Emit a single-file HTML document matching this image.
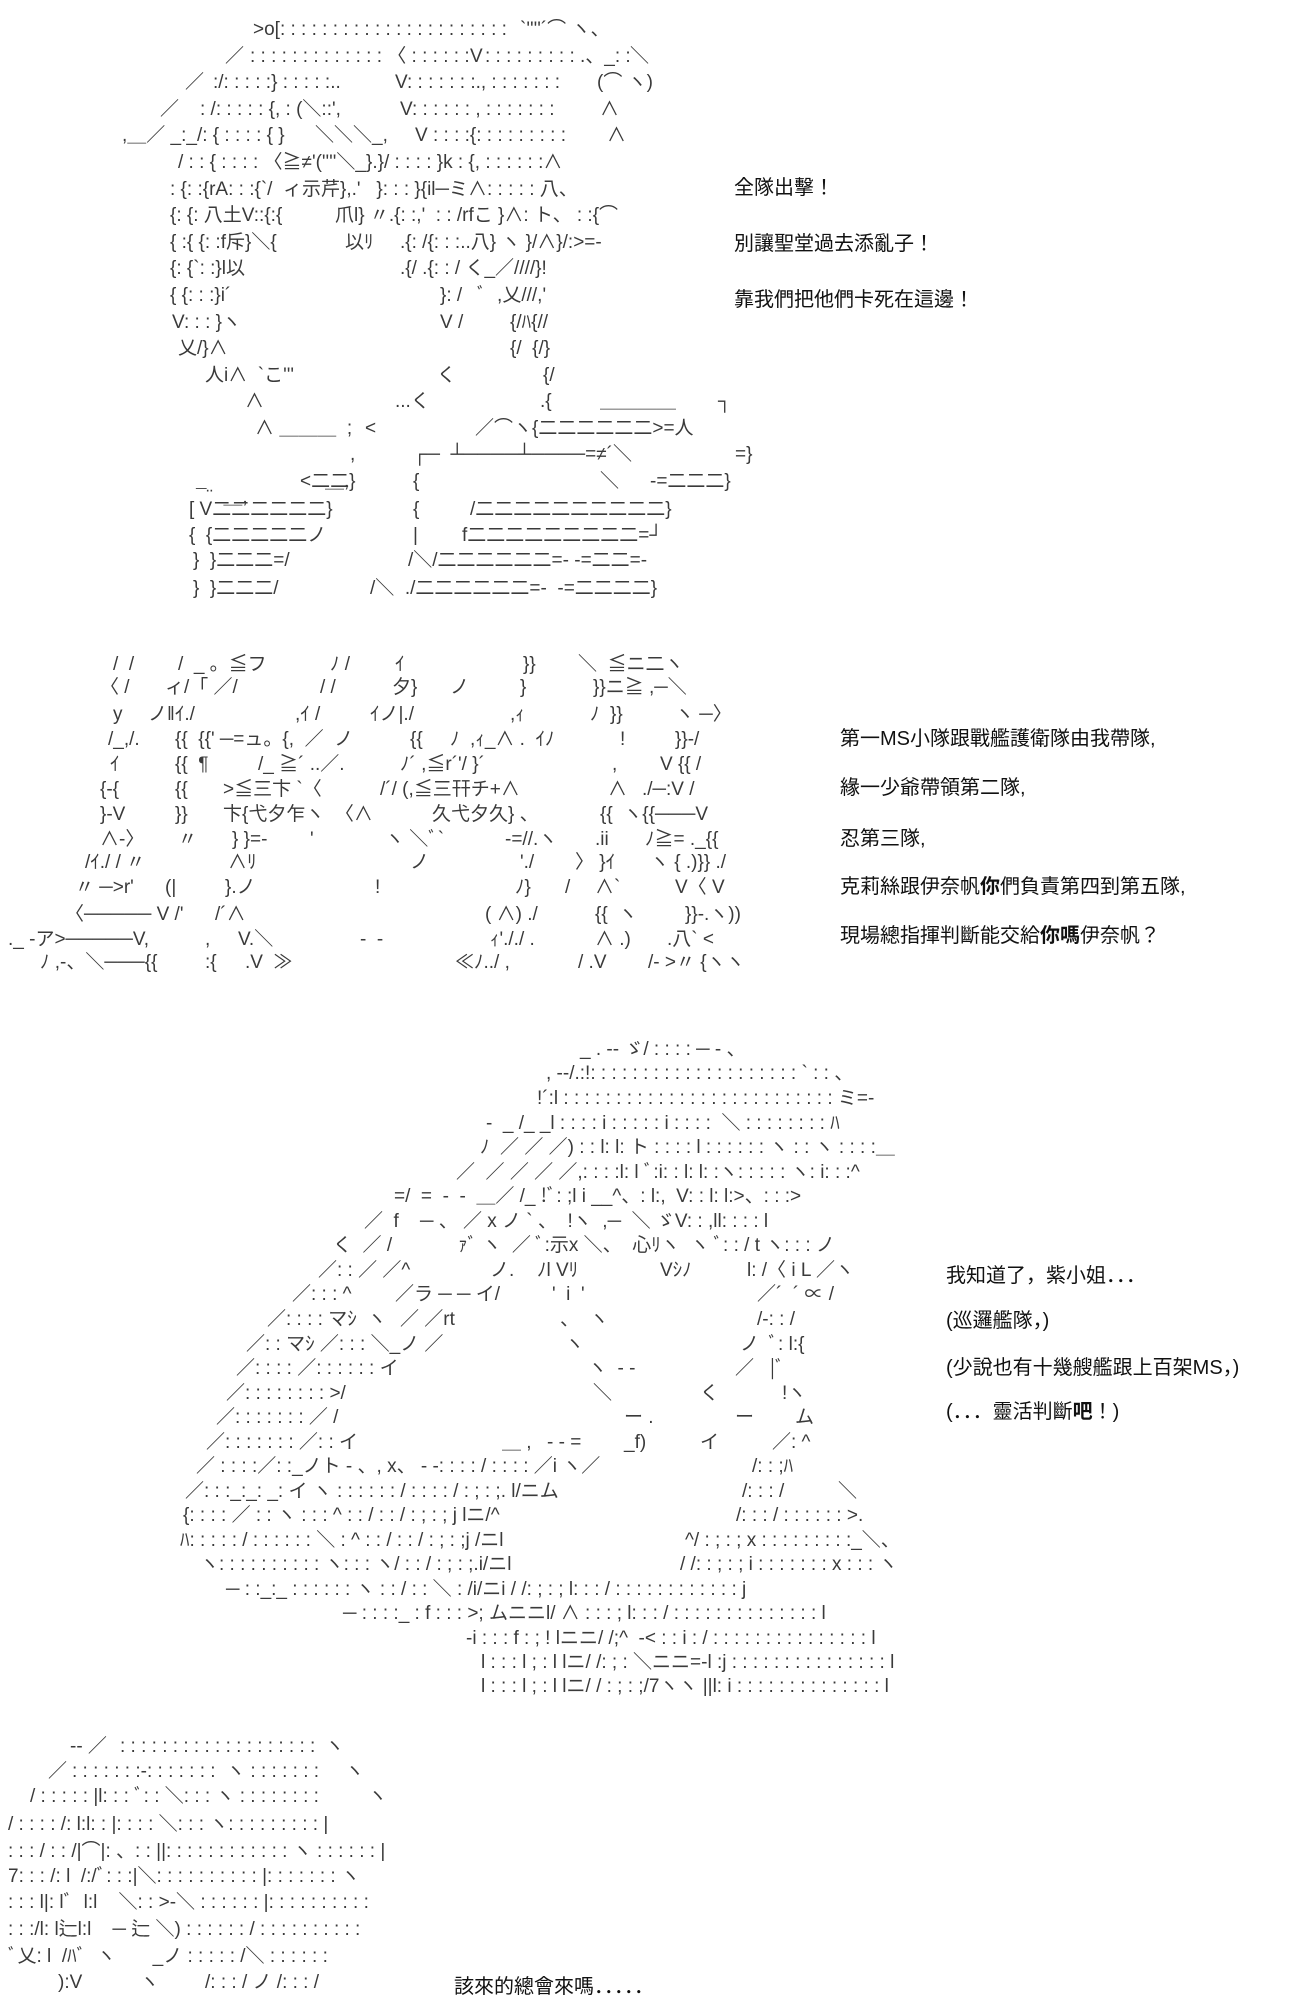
<!DOCTYPE html>
<html><head><meta charset="utf-8">
<style>
html,body{margin:0;padding:0;background:#fff;}
body{width:1300px;height:2000px;position:relative;overflow:hidden;
font-family:"Liberation Sans","Noto Sans CJK JP",sans-serif;color:#3a3a3a;}
.r{position:absolute;left:0;height:20px;width:1300px;}
.r span{position:absolute;top:0;white-space:pre;font-size:19px;line-height:20px;}
.t{position:absolute;white-space:pre;font-size:20px;line-height:22px;color:#111;}
</style></head><body>

<!-- Block 1 -->
<div class="r" style="top:20px"><span style="left:253px">&gt;o[: : : : : : : : : : : : : : : : : : : : : :</span><span style="left:520px">`''''´⌒ ヽ、</span></div>
<div class="r" style="top:47px"><span style="left:225px">／</span><span style="left:250px">: : : : : : : : : : : : : 〈 : : : : : :</span><span style="left:470px">V</span><span style="left:485px">: : : : : : : : : .、_: :</span><span style="left:630px">＼</span></div>
<div class="r" style="top:73px"><span style="left:185px">／</span><span style="left:213px">:/: : : : :} : : : : :..</span><span style="left:395px">V: : : : : : :., : : : : : : :</span><span style="left:597px">(⌒ ヽ)</span></div>
<div class="r" style="top:100px"><span style="left:160px">／</span><span style="left:200px">: /: : : : : {, : (＼::',</span><span style="left:400px">V: : : : : : , : : : : : : :</span><span style="left:600px">∧</span></div>
<div class="r" style="top:126px"><span style="left:122px">,＿／ _:_/: { : : : : { }</span><span style="left:315px">＼＼＼_,</span><span style="left:415px">V : : : :{: : : : : : : : :</span><span style="left:607px">∧</span></div>
<div class="r" style="top:153px"><span style="left:178px">/ : : { : : : : 〈≧≠'(''''＼_}.}/ : : : : }k : {, : : : : : :∧</span></div>
<div class="r" style="top:180px"><span style="left:170px">: {: :{rA: : :{`/  ィ示芹},.'   }: : : }{il─ミ∧: : : : : 八、</span></div>
<div class="r" style="top:206px"><span style="left:170px">{: {: 八土V::{:{</span><span style="left:335px">爪l} 〃.{: :,'  : : /rfこ }∧: ト、 : :{⌒</span></div>
<div class="r" style="top:233px"><span style="left:170px">{ :{ {: :f斥}＼{</span><span style="left:345px">以ﾘ</span><span style="left:400px">.{: /{: : :..八} ヽ }/∧}/:&gt;=-</span></div>
<div class="r" style="top:259px"><span style="left:170px">{: {`: :}l以</span><span style="left:400px">.{/ .{: : / く_／////}!</span></div>
<div class="r" style="top:286px"><span style="left:170px">{ {: : :}i´</span><span style="left:440px">}: /   ﾞ  ,乂///,'</span></div>
<div class="r" style="top:313px"><span style="left:172px">V: : : }ヽ</span><span style="left:440px">V /</span><span style="left:510px">{/ﾊ{//</span></div>
<div class="r" style="top:339px"><span style="left:178px">乂/}∧</span><span style="left:510px">{/  {/}</span></div>
<div class="r" style="top:366px"><span style="left:205px">人i∧  `こ'''</span><span style="left:437px">く</span><span style="left:543px">{/</span></div>
<div class="r" style="top:392px"><span style="left:245px">∧</span><span style="left:395px">...く</span><span style="left:540px">.{</span><span style="left:600px">＿＿＿＿</span><span style="left:718px">┐</span></div>
<div class="r" style="top:419px"><span style="left:255px">∧ ＿＿＿  ;</span><span style="left:365px">&lt;</span><span style="left:475px">／⌒ヽ{二二二二二二&gt;=人</span></div>
<div class="r" style="top:445px"><span style="left:350px">,</span><span style="left:413px">┌─  ┴────┴────=≠´＼</span><span style="left:735px">=}</span></div>
<div class="r" style="top:472px"><span style="left:325px">＿,</span><span style="left:300px">&lt;二二}</span><span style="left:413px">{</span><span style="left:600px">＼</span><span style="left:650px">-=二二二}</span></div>
<div class="r" style="top:488px"><span style="left:196px">¯¨  ＿,</span></div>
<div class="r" style="top:500px"><span style="left:189px">[ V二二二二二二}</span><span style="left:413px">{</span><span style="left:470px">/二二二二二二二二二二}</span></div>
<div class="r" style="top:526px"><span style="left:189px">{  {二二二二二ノ</span><span style="left:413px">|</span><span style="left:462px">f二二二二二二二二二=┘</span></div>
<div class="r" style="top:551px"><span style="left:193px">}  }二二二=/</span><span style="left:408px">/＼/二二二二二二=- -=二二=-</span></div>
<div class="r" style="top:579px"><span style="left:193px">}  }二二二/</span><span style="left:370px">/＼  ./二二二二二二=-  -=二二二二}</span></div>

<div class="t" style="left:734px;top:177px">全隊出擊！</div>
<div class="t" style="left:734px;top:233px">別讓聖堂過去添亂子！</div>
<div class="t" style="left:734px;top:289px">靠我們把他們卡死在這邊！</div>

<!-- Block 2 -->
<div class="r" style="top:655px"><span style="left:113px">/  /</span><span style="left:178px">/  _ 。≦フ</span><span style="left:330px">ﾉ /</span><span style="left:395px">ｲ</span><span style="left:523px">}}</span><span style="left:578px">＼  ≦ニ二ヽ</span></div>
<div class="r" style="top:678px"><span style="left:100px">〈 /</span><span style="left:165px">ィ/「 ／/</span><span style="left:320px">/ /</span><span style="left:392px">夕}</span><span style="left:450px">ノ</span><span style="left:520px">}</span><span style="left:593px">}}ニ≧ ,─＼</span></div>
<div class="r" style="top:705px"><span style="left:113px">y</span><span style="left:148px">ノ‖ｲ./</span><span style="left:295px">,ｲ /</span><span style="left:370px">ｲノ|./</span><span style="left:510px">,ｨ</span><span style="left:590px">ﾉ  }}</span><span style="left:675px">ヽ ─〉</span></div>
<div class="r" style="top:730px"><span style="left:108px">/_,/.</span><span style="left:175px">{{  {{' ─=ュ。{,  ／  ノ</span><span style="left:410px">{{</span><span style="left:450px">ﾉ  ,ｨ_∧ .  ｲﾉ</span><span style="left:620px">!</span><span style="left:675px">}}-/</span></div>
<div class="r" style="top:755px"><span style="left:110px">ｲ</span><span style="left:175px">{{  ¶</span><span style="left:258px">/_ ≧´ ..／.</span><span style="left:400px">ﾉ´ ,≦r´'/ }´</span><span style="left:612px">,</span><span style="left:660px">V {{ /</span></div>
<div class="r" style="top:780px"><span style="left:100px">{-{</span><span style="left:175px">{{</span><span style="left:223px">&gt;≦三卞 `〈</span><span style="left:380px">/´/ (,≦三幵チ+∧</span><span style="left:608px">∧</span><span style="left:642px">./─:V /</span></div>
<div class="r" style="top:805px"><span style="left:100px">}-V</span><span style="left:175px">}}</span><span style="left:223px">卞{弋夕乍ヽ  〈∧</span><span style="left:432px">久弋夕久} 、</span><span style="left:600px">{{  ヽ{{───V</span></div>
<div class="r" style="top:830px"><span style="left:100px">∧-〉</span><span style="left:178px">〃</span><span style="left:232px">} }=-</span><span style="left:310px">'</span><span style="left:385px">ヽ ＼ﾞ`</span><span style="left:505px">-=//.ヽ</span><span style="left:595px">.ii</span><span style="left:645px">ﾉ≧= ._{{</span></div>
<div class="r" style="top:853px"><span style="left:85px">/ｲ./ / 〃</span><span style="left:228px">∧ﾘ</span><span style="left:410px">ノ</span><span style="left:520px">'./</span><span style="left:575px">〉 }ｲ</span><span style="left:650px">ヽ { .)}} ./</span></div>
<div class="r" style="top:878px"><span style="left:75px">〃 ─&gt;r'</span><span style="left:165px">(|</span><span style="left:225px">}.ノ</span><span style="left:375px">!</span><span style="left:515px">ﾉ}</span><span style="left:565px">/</span><span style="left:595px">∧`</span><span style="left:675px">V〈 V</span></div>
<div class="r" style="top:905px"><span style="left:65px">〈───── V /'</span><span style="left:215px">/´∧</span><span style="left:485px">( ∧) ./</span><span style="left:595px">{{  ヽ</span><span style="left:685px">}}-.ヽ))</span></div>
<div class="r" style="top:930px"><span style="left:8px">._ ‐ア&gt;─────V,</span><span style="left:205px">,</span><span style="left:238px">V.＼</span><span style="left:360px">-  -</span><span style="left:490px">ｨ'././ .</span><span style="left:595px">∧ .)</span><span style="left:667px">.八` &lt;</span></div>
<div class="r" style="top:953px"><span style="left:40px">ﾉ ,‐、＼───{{</span><span style="left:205px">:{</span><span style="left:245px">.V  ≫</span><span style="left:455px">≪ﾉ../ ,</span><span style="left:578px">/ .V</span><span style="left:648px">/‐ &gt;〃 {ヽヽ</span></div>

<div class="t" style="left:840px;top:728px">第一MS小隊跟戰艦護衛隊由我帶隊,</div>
<div class="t" style="left:840px;top:777px">緣一少爺帶領第二隊,</div>
<div class="t" style="left:840px;top:828px">忍第三隊,</div>
<div class="t" style="left:840px;top:876px">克莉絲跟伊奈帆<b>你</b>們負責第四到第五隊,</div>
<div class="t" style="left:840px;top:925px">現場總指揮判斷能交給<b>你嗎</b>伊奈帆？</div>

<!-- Block 3 -->
<div class="r" style="top:1040px"><span style="left:580px">_ . -‐ ゞ/ : : : : ─ - 、</span></div>
<div class="r" style="top:1064px"><span style="left:546px">, -‐/.:!: : : : : : : : : : : : : : : : : : : : ` : : 、</span></div>
<div class="r" style="top:1089px"><span style="left:537px">!´:l : : : : : : : : : : : : : : : : : : : : : : : : : : ミ=-</span></div>
<div class="r" style="top:1114px"><span style="left:486px">-  _ /_ _l : : : : i : : : : : i : : : :  ＼ : : : : : : : : ﾊ</span></div>
<div class="r" style="top:1138px"><span style="left:480px">ﾉ  ／ ／ ／) : : l: l: ト : : : : l : : : : : : ヽ : : ヽ : : : :＿</span></div>
<div class="r" style="top:1163px"><span style="left:456px">／  ／ ／ ／ ／,: : : :l: l ﾞ:i: : l: l: :ヽ: : : : : ヽ: i: : :^</span></div>
<div class="r" style="top:1187px"><span style="left:394px">=/  =  ‐  ‐  ＿／ /_ !ﾞ: ;l i __^、: l:,  V: : l: l:&gt;、: : :&gt;</span></div>
<div class="r" style="top:1212px"><span style="left:364px">／  f    ─ 、 ／ x ノ ` 、  !ヽ  ,─  ＼ ゞV: : ,ll: : : : l</span></div>
<div class="r" style="top:1236px"><span style="left:333px">く  ／ /</span><span style="left:458px">ｧﾞ ヽ  ／ ﾞ:示x ＼、  心ﾘヽ  ヽ ﾞ: : / t ヽ: : : ノ</span></div>
<div class="r" style="top:1261px"><span style="left:318px">／: : ／ ／^</span><span style="left:490px">ノ.</span><span style="left:537px">ﾉl Vﾘ</span><span style="left:660px">Vｼﾉ</span><span style="left:747px">l: /〈 i L ／ヽ</span></div>
<div class="r" style="top:1285px"><span style="left:292px">／: : : ^</span><span style="left:395px">／ラ ─ ─ イ/</span><span style="left:552px">'  i  '</span><span style="left:757px">／´  ´ ∝ /</span></div>
<div class="r" style="top:1310px"><span style="left:267px">／: : : : マｼ  ヽ</span><span style="left:400px">／ ／rt</span><span style="left:560px">、  ヽ</span><span style="left:757px">/-: : /</span></div>
<div class="r" style="top:1335px"><span style="left:246px">／: : マｼ ／: : : ＼_ノ ／</span><span style="left:565px">ヽ</span><span style="left:740px">ノ  ﾞ: l:{</span></div>
<div class="r" style="top:1359px"><span style="left:236px">／: : : : ／: : : : : : イ</span><span style="left:588px">ヽ  ‐ ‐</span><span style="left:735px">／   |ﾞ</span></div>
<div class="r" style="top:1384px"><span style="left:226px">／: : : : : : : : &gt;/</span><span style="left:593px">＼</span><span style="left:700px">く</span><span style="left:782px">!ヽ</span></div>
<div class="r" style="top:1408px"><span style="left:216px">／: : : : : : : ／ /</span><span style="left:624px">ー .</span><span style="left:735px">ー</span><span style="left:795px">ム</span></div>
<div class="r" style="top:1433px"><span style="left:206px">／: : : : : : : ／: : イ</span><span style="left:502px">＿ ,</span><span style="left:547px">‐ ‐ =</span><span style="left:624px">_f)</span><span style="left:700px">イ</span><span style="left:772px">／: ^</span></div>
<div class="r" style="top:1457px"><span style="left:196px">／ : : : :／: :_ノト - 、, x、 ‐ ‐: : : : / : : : : ／i ヽ／</span><span style="left:752px">/: : ;ﾊ</span></div>
<div class="r" style="top:1482px"><span style="left:185px">／: : :_:_: _: イ ヽ : : : : : : / : : : : / : ; : ;. l/ニム</span><span style="left:742px">/: : : /</span><span style="left:838px">＼</span></div>
<div class="r" style="top:1506px"><span style="left:183px">{: : : : ／ : : ヽ : : : ^ : : / : : / : ; : ; j lニ/^</span><span style="left:736px">/: : : / : : : : : : &gt;.</span></div>
<div class="r" style="top:1531px"><span style="left:180px">ﾊ: : : : : / : : : : : : ＼ : ^ : : / : : / : ; : ;j /ニl</span><span style="left:685px">^/ : ; : ; x : : : : : : : : :_＼、</span></div>
<div class="r" style="top:1555px"><span style="left:200px">ヽ: : : : : : : : : : ヽ: : : ヽ/ : : / : ; : ;.i/ニl</span><span style="left:680px">/ /: : ; : ; i : : : : : : : x : : : ヽ</span></div>
<div class="r" style="top:1580px"><span style="left:226px">─ : :_:_ : : : : : : ヽ : : / : : ＼ : /i/ニi / /: ; : ; l: : : / : : : : : : : : : : : : j</span></div>
<div class="r" style="top:1604px"><span style="left:343px">─ : : : :_ : f : : : &gt;; ムニニl/ ∧ : : : ; l: : : / : : : : : : : : : : : : : : l</span></div>
<div class="r" style="top:1629px"><span style="left:466px">-i : : : f : ; ! lニニ/ /;^  -&lt; : : i : / : : : : : : : : : : : : : : : l</span></div>
<div class="r" style="top:1653px"><span style="left:481px">l : : : l ; : l lニ/ /: ; : ＼ニニ=‐l :j : : : : : : : : : : : : : : : l</span></div>
<div class="r" style="top:1677px"><span style="left:481px">l : : : l ; : l lニ/ / : ; : ;/7ヽヽ ||l: i : : : : : : : : : : : : : : l</span></div>

<div class="t" style="left:946px;top:1265px">我知道了，紫小姐．．．</div>
<div class="t" style="left:946px;top:1310px">(巡邏艦隊，)</div>
<div class="t" style="left:946px;top:1357px">(少說也有十幾艘艦跟上百架MS，)</div>
<div class="t" style="left:946px;top:1401px">(．．．靈活判斷<b>吧</b>！)</div>

<!-- Block 4 -->
<div class="r" style="top:1737px"><span style="left:70px">-- ／</span><span style="left:120px">: : : : : : : : : : : : : : : : : : :</span><span style="left:325px">ヽ</span></div>
<div class="r" style="top:1762px"><span style="left:48px">／</span><span style="left:72px">: : : : : : :‐: : : : : : :  ヽ : : : : : : :</span><span style="left:345px">ヽ</span></div>
<div class="r" style="top:1787px"><span style="left:30px">/ : : : : : |l: : : ﾞ: : ＼: : : ヽ : : : : : : : :</span><span style="left:368px">ヽ</span></div>
<div class="r" style="top:1815px"><span style="left:8px">/ : : : : /: l:l: : |: : : : ＼: : : ヽ: : : : : : : : : |</span></div>
<div class="r" style="top:1842px"><span style="left:8px">: : : / : : /|⌒|: 、: : ||: : : : : : : : : : : : ヽ : : : : : : |</span></div>
<div class="r" style="top:1867px"><span style="left:8px">7: : : /: l  /:/ﾞ: : :|＼: : : : : : : : : : |: : : : : : : ヽ</span></div>
<div class="r" style="top:1893px"><span style="left:8px">: : : l|: lﾞ  l:l    ＼: : &gt;-＼ : : : : : : |: : : : : : : : : :</span></div>
<div class="r" style="top:1920px"><span style="left:8px">: : :/l: l辷l:l    ─ 辷 ＼) : : : : : : / : : : : : : : : : :</span></div>
<div class="r" style="top:1947px"><span style="left:8px">ﾞ乂: l  /ﾊﾞ  ヽ       _ノ : : : : : /＼ : : : : : :</span></div>
<div class="r" style="top:1973px"><span style="left:58px">):V</span><span style="left:140px">ヽ</span><span style="left:205px">/: : : / ノ /: : : /</span></div>

<div class="t" style="left:454px;top:1976px">該來的總會來嗎．．．．．</div>

</body></html>
